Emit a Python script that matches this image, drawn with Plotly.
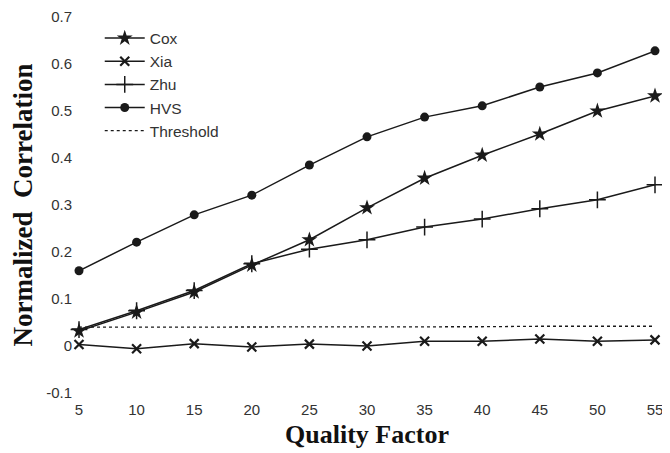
import plotly.graph_objects as go

quality = [5, 10, 15, 20, 25, 30, 35, 40, 45, 50, 55]
cox = [0.032, 0.072, 0.115, 0.172, 0.226, 0.294, 0.357, 0.406, 0.451, 0.500, 0.532]
xia = [0.003, -0.006, 0.005, -0.002, 0.004, 0.000, 0.010, 0.010, 0.015, 0.010, 0.013]
zhu = [0.035, 0.075, 0.118, 0.175, 0.206, 0.226, 0.253, 0.270, 0.292, 0.311, 0.343]
hvs = [0.160, 0.221, 0.279, 0.321, 0.385, 0.445, 0.487, 0.511, 0.551, 0.581, 0.628]
threshold = [0.040, 0.040, 0.040, 0.040, 0.041, 0.041, 0.041, 0.041, 0.042, 0.042, 0.042]
y_ticks = [-0.1, 0, 0.1, 0.2, 0.3, 0.4, 0.5, 0.6, 0.7]
y_tick_labels = ["-0.1", "0", "0.1", "0.2", "0.3", "0.4", "0.5", "0.6", "0.7"]

LC = "#1a1a1a"
fig = go.Figure()
fig.add_trace(go.Scatter(x=quality, y=cox, name="Cox", mode="lines+markers",
                         line=dict(color=LC, width=1.5),
                         marker=dict(symbol="star", size=12, color=LC), cliponaxis=False))
fig.add_trace(go.Scatter(x=quality, y=xia, name="Xia", mode="lines+markers",
                         line=dict(color=LC, width=1.5),
                         marker=dict(symbol="x-thin", size=9, line=dict(color=LC, width=2.2)), cliponaxis=False))
fig.add_trace(go.Scatter(x=quality, y=zhu, name="Zhu", mode="lines+markers",
                         line=dict(color=LC, width=1.5),
                         marker=dict(symbol="cross-thin", size=12, line=dict(color=LC, width=1.5)), cliponaxis=False))
fig.add_trace(go.Scatter(x=quality, y=hvs, name="HVS", mode="lines+markers",
                         line=dict(color=LC, width=1.5),
                         marker=dict(symbol="circle", size=9, color=LC), cliponaxis=False))
fig.add_trace(go.Scatter(x=quality, y=threshold, name="Threshold", mode="lines",
                         line=dict(color=LC, width=1.3, dash="dot"), cliponaxis=False))

# the page body adds an 8px offset; figure size and margins compensate for it
fig.update_layout(
    width=662, height=445,
    margin=dict(l=71, r=15, t=9, b=60),
    paper_bgcolor="white", plot_bgcolor="white",
    font=dict(family="Liberation Sans, Arial, sans-serif", color="#333", size=14),
    legend=dict(x=0.036, y=0.988, xanchor="left", yanchor="top",
                font=dict(size=15.5, color="#333"), bgcolor="rgba(0,0,0,0)",
                tracegroupgap=0, itemwidth=40),
    xaxis=dict(range=[5, 55], tickvals=quality, showgrid=False, zeroline=False,
               showline=False, ticks="outside", ticklen=3, tickcolor="rgba(0,0,0,0)",
               tickfont=dict(size=15, color="#333"), automargin=False,
               ticklabeloverflow="allow",
               title=dict(text="<b>Quality Factor</b>", standoff=7,
                          font=dict(family="Liberation Serif, Times New Roman, serif",
                                    size=26, color="#111"))),
    yaxis=dict(range=[-0.1, 0.7], tickvals=y_ticks, ticktext=y_tick_labels,
               showgrid=False, zeroline=False, showline=False,
               ticks="outside", ticklen=3, tickcolor="rgba(0,0,0,0)",
               tickfont=dict(size=15, color="#333"), automargin=False,
               ticklabeloverflow="allow",
               title=dict(text="<b>Normalized  Correlation</b>", standoff=5,
                          font=dict(family="Liberation Serif, Times New Roman, serif",
                                    size=27, color="#111"))),
)

fig.write_html("out.html")
